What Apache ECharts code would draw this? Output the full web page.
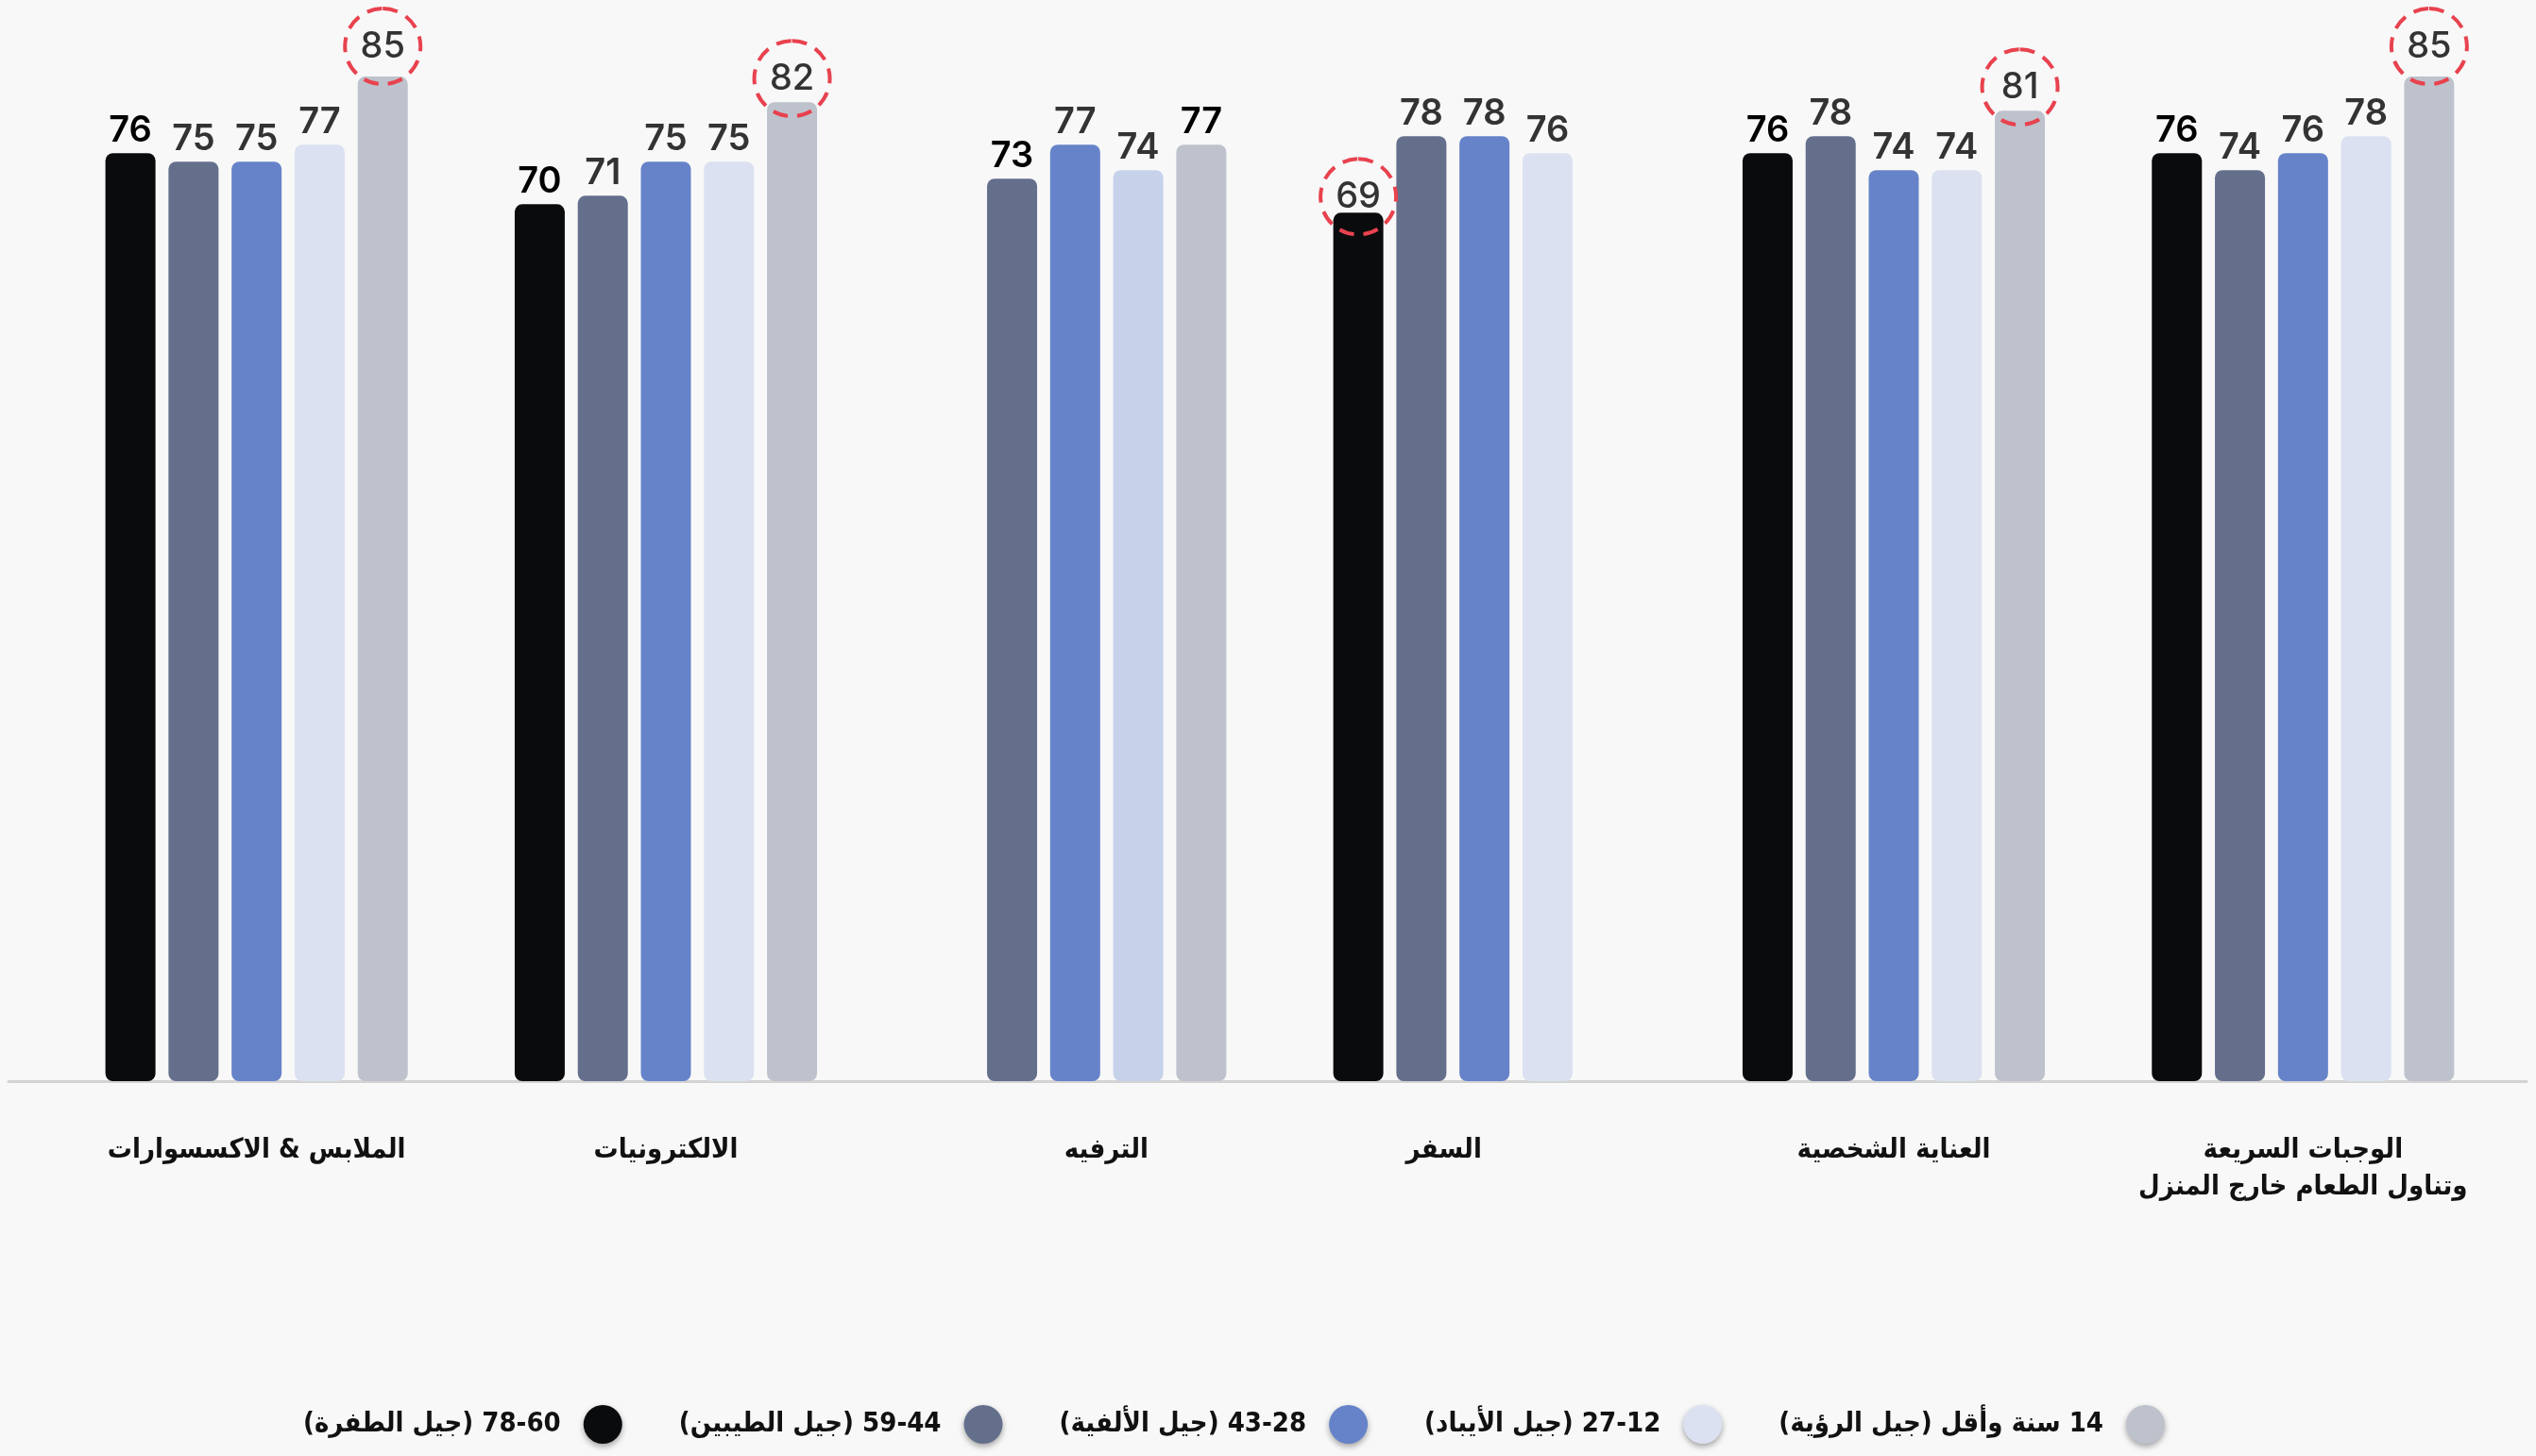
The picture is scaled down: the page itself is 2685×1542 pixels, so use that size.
<!DOCTYPE html>
<html>
<head>
<meta charset="utf-8">
<script src="https://cdn.jsdelivr.net/npm/echarts@6/dist/echarts.min.js"></script>
<style>
  html, body { margin: 0; padding: 0; background: #f8f8f8; }
  #chart { width: 2685px; height: 1542px; }
</style>
</head>
<body>
<div id="chart" dir="rtl"></div>
<script>
  // categories, left to right
  var categories = [
    'الملابس & الاكسسوارات',
    'الالكترونيات',
    'الترفيه',
    'السفر',
    'العناية الشخصية',
    'الوجبات السريعة\nوتناول الطعام خارج المنزل'
  ]
  var seriesNames = [
    '78-60 (جيل الطفرة)',
    '59-44 (جيل الطيبين)',
    '43-28 (جيل الألفية)',
    '27-12 (جيل الأيباد)',
    '14 سنة وأقل (جيل الرؤية)'
  ]
  var boomers = [76, 70, null, 69, 76, 76]
  var genX = [75, 71, 73, 78, 78, 74]
  var millennials = [75, 75, 77, 78, 74, 76]
  var genZ = [77, 75, 74, 76, 74, 78]
  var alpha = [85, 82, 77, null, 81, 85]
  // [series, category, lift of the circle centre above the bar]
  var circled = [[4, 0, 32], [4, 1, 25], [0, 3, 17], [4, 4, 25], [4, 5, 32]]

  var colors = ['#0a0b0d', '#646f8c', '#6683c9', '#dbe1f1', '#bec2cc']
  var labelColors = ['#000', '#333', '#333', '#333', '#333']

  var numFont = 'Inter, Lato, sans-serif'
  var arFont = '"DejaVu Sans Condensed", "DejaVu Sans", sans-serif'

  function buildData(values, si) {
    return values.map(function (v, ci) {
      var item = { value: v }
      var c = circled.filter(function (c) { return c[0] === si && c[1] === ci })[0]
      if (c) {
        item.label = {
          width: 76,
          height: 76,
          lineHeight: 76,
          align: 'center',
          verticalAlign: 'middle',
          borderColor: '#e8424e',
          borderWidth: 4,
          borderType: [16, 10],
          borderRadius: 42,
          padding: 2,
          fontWeight: 500,
          color: '#333',
          distance: c[2]
        }
      }
      // the ترفيه group has darker labels and a deeper pale bar
      if (ci === 2 && (si === 1 || si === 4)) {
        item.label = Object.assign(item.label || {}, { color: '#000' })
      }
      if (ci === 2 && si === 3) {
        item.itemStyle = { color: '#c6d1ea' }
      }
      return item
    })
  }

  var all = [boomers, genX, millennials, genZ, alpha]
  var series = all.map(function (vals, si) {
    return {
      name: seriesNames[si],
      type: 'bar',
      xAxisIndex: 0,
      yAxisIndex: 0,
      barWidth: 53,
      barGap: '26%',
      itemStyle: { color: colors[si], borderRadius: 8 },
      label: {
        show: true,
        position: 'top',
        distance: 5,
        fontFamily: numFont,
        fontSize: 38,
        fontWeight: 600,
        color: labelColors[si]
      },
      data: buildData(vals, si)
    }
  })

  var chartDom = document.getElementById('chart')
  var myChart = echarts.init(chartDom)
  myChart.setOption({
    backgroundColor: '#f8f8f8',
    animation: false,
    legend: {
      left: 316,
      top: 1483,
      icon: 'circle',
      align: 'right',
      itemWidth: 41,
      itemHeight: 41,
      itemGap: 60,
      textStyle: {
        fontFamily: arFont,
        fontSize: 29,
        fontWeight: 'bold',
        color: '#111',
        padding: [0, 19, 0, 0]
      },
      itemStyle: {
        shadowBlur: 6,
        shadowColor: 'rgba(0,0,0,0.35)',
        shadowOffsetY: 3
      },
      data: seriesNames
    },
    grid: [
      { left: 55, right: 30, top: 36, bottom: 397 },
      { left: 9, right: 10, top: 36, bottom: 397 }
    ],
    xAxis: [
      {
        type: 'category',
        gridIndex: 0,
        data: categories.map(function (c, i) {
          if (i === 2) return { value: c, textStyle: { padding: [0, 0, 0, 66] } }
          if (i === 3) return { value: c, textStyle: { padding: [0, 86, 0, 0] } }
          return c
        }),
        axisLine: { show: false },
        axisTick: { show: false },
        axisLabel: {
          margin: 54,
          fontFamily: arFont,
          fontSize: 29,
          fontWeight: 'bold',
          lineHeight: 39,
          color: '#111',
          interval: 0
        }
      },
      {
        type: 'value',
        gridIndex: 1,
        axisLine: { show: true, onZero: false, lineStyle: { color: '#d3d3d3', width: 3 } },
        axisTick: { show: false },
        axisLabel: { show: false },
        splitLine: { show: false }
      }
    ],
    yAxis: [
      {
        type: 'value',
        gridIndex: 0,
        min: -33,
        max: 90,
        startValue: -33,
        show: false
      },
      { type: 'value', gridIndex: 1, show: false }
    ],
    series: series
  })
</script>
</body>
</html>
